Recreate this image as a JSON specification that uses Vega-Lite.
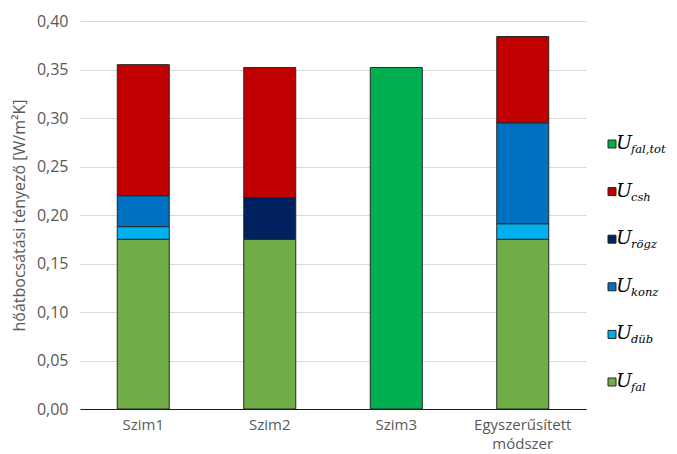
{
  "$schema": "https://vega.github.io/schema/vega-lite/v6.json",
  "background": "white",
  "padding": {"top": 13, "left": 11, "right": 0, "bottom": 0},
  "config": {
    "view": {"stroke": null},
    "font": "Open Sans",
    "concat": {"spacing": 6}
  },
  "datasets": {
    "bars": [
      {"szim": "Szim1", "comp": "fal", "sorrend": 1, "ertek": 0.175},
      {"szim": "Szim1", "comp": "düb", "sorrend": 2, "ertek": 0.013},
      {"szim": "Szim1", "comp": "konz", "sorrend": 3, "ertek": 0.032},
      {"szim": "Szim1", "comp": "csh", "sorrend": 5, "ertek": 0.135},
      {"szim": "Szim2", "comp": "fal", "sorrend": 1, "ertek": 0.175},
      {"szim": "Szim2", "comp": "rögz", "sorrend": 4, "ertek": 0.043},
      {"szim": "Szim2", "comp": "csh", "sorrend": 5, "ertek": 0.134},
      {"szim": "Szim3", "comp": "fal,tot", "sorrend": 6, "ertek": 0.352},
      {"szim": "Egyszerűsített módszer", "comp": "fal", "sorrend": 1, "ertek": 0.175},
      {"szim": "Egyszerűsített módszer", "comp": "düb", "sorrend": 2, "ertek": 0.016},
      {"szim": "Egyszerűsített módszer", "comp": "konz", "sorrend": 3, "ertek": 0.104},
      {"szim": "Egyszerűsített módszer", "comp": "csh", "sorrend": 5, "ertek": 0.089}
    ],
    "legend": [
      {"comp": "fal,tot"},
      {"comp": "csh"},
      {"comp": "rögz"},
      {"comp": "konz"},
      {"comp": "düb"},
      {"comp": "fal"}
    ]
  },
  "hconcat": [
    {
      "width": 506,
      "height": 388,
      "data": {"name": "bars"},
      "mark": {"type": "bar", "width": 52, "stroke": "#262626", "strokeWidth": 1},
      "encoding": {
        "x": {
          "field": "szim",
          "type": "nominal",
          "sort": ["Szim1", "Szim2", "Szim3", "Egyszerűsített módszer"],
          "title": null,
          "axis": {
            "labelAngle": 0,
            "labelFontSize": 15,
            "labelColor": "#595959",
            "labelPadding": 8,
            "labelLineHeight": 19,
            "labelExpr": "datum.label == 'Egyszerűsített módszer' ? ['Egyszerűsített', 'módszer'] : datum.label",
            "ticks": false,
            "domainColor": "#1a1a1a",
            "domainWidth": 1.2
          }
        },
        "y": {
          "field": "ertek",
          "type": "quantitative",
          "aggregate": "sum",
          "stack": "zero",
          "scale": {"domain": [0, 0.4]},
          "title": "hőátbocsátási tényező [W/m²K]",
          "axis": {
            "values": [0, 0.05, 0.1, 0.15, 0.2, 0.25, 0.3, 0.35, 0.4],
            "labelExpr": "replace(format(datum.value, '.2f'), '.', ',')",
            "labelFontSize": 16,
            "labelColor": "#595959",
            "labelPadding": 12,
            "titleFontSize": 16,
            "titleFontWeight": "normal",
            "titleColor": "#595959",
            "titlePadding": 9,
            "ticks": false,
            "domain": false,
            "gridColor": "#d9d9d9",
            "gridWidth": 1
          }
        },
        "color": {
          "field": "comp",
          "type": "nominal",
          "scale": {
            "domain": ["fal,tot", "csh", "rögz", "konz", "düb", "fal"],
            "range": ["#00B050", "#C00000", "#002060", "#0070C0", "#00B0F0", "#70AD47"]
          },
          "legend": null
        },
        "order": {"field": "sorrend", "type": "quantitative"}
      }
    },
    {
      "width": 40,
      "height": 388,
      "data": {"name": "legend"},
      "encoding": {
        "y": {
          "field": "comp",
          "type": "nominal",
          "sort": null,
          "scale": {"type": "point", "range": [123, 361], "padding": 0},
          "axis": null
        }
      },
      "layer": [
        {
          "mark": {"type": "point", "shape": "square", "filled": true, "size": 64, "stroke": "#262626", "strokeWidth": 1, "opacity": 1},
          "encoding": {
            "color": {"field": "comp", "type": "nominal", "legend": null}
          }
        },
        {
          "mark": {"type": "text", "text": "U", "font": "DejaVu Serif", "fontStyle": "italic", "fontSize": 19, "align": "left", "baseline": "middle", "color": "#000000", "dx": 4, "dy": -1}
        },
        {
          "mark": {"type": "text", "font": "DejaVu Serif", "fontStyle": "italic", "fontSize": 11.5, "align": "left", "baseline": "middle", "color": "#000000", "dx": 19, "dy": 6},
          "encoding": {
            "text": {"field": "comp"}
          }
        }
      ]
    }
  ]
}
